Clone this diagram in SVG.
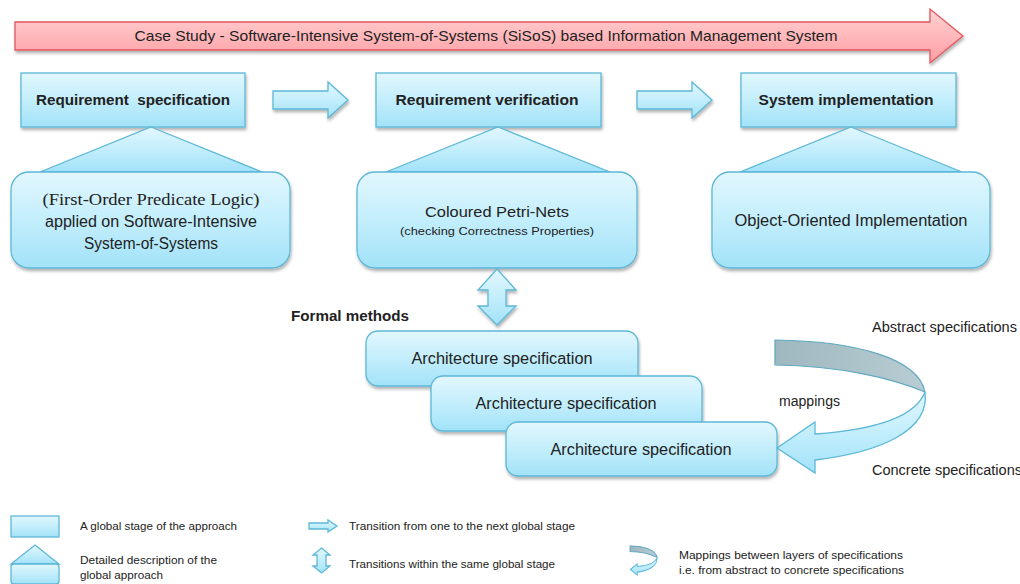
<svg xmlns="http://www.w3.org/2000/svg" width="1020" height="584" viewBox="0 0 1020 584">
  <defs>
    <linearGradient id="gBlue" x1="0" y1="0" x2="0" y2="1">
      <stop offset="0" stop-color="#e2f7fe"/>
      <stop offset="0.5" stop-color="#c3eefc"/>
      <stop offset="1" stop-color="#a2e2f8"/>
    </linearGradient>
    <linearGradient id="gRed" x1="0" y1="0" x2="0" y2="1">
      <stop offset="0" stop-color="#ffd3d4"/>
      <stop offset="1" stop-color="#ff9da2"/>
    </linearGradient>
    <linearGradient id="gGrey" x1="0" y1="0" x2="1" y2="0">
      <stop offset="0" stop-color="#9fb7bf"/>
      <stop offset="1" stop-color="#b8cdd3"/>
    </linearGradient>
    <filter id="shadow" x="-10%" y="-10%" width="120%" height="130%">
      <feDropShadow dx="1" dy="2.5" stdDeviation="1.6" flood-color="#000" flood-opacity="0.3"/>
    </filter>
    <style>
      .stage { fill: url(#gBlue); stroke: #5db7d7; stroke-width: 1.3; }
      .sh { filter: url(#shadow); }
      .txt { font-family: "Liberation Sans", Arial, sans-serif; fill: #222; }
      .serif { font-family: "Liberation Serif", "Times New Roman", serif; }
      .head { font-weight: bold; font-size: 14px; }
      .mid { text-anchor: middle; }
      .leg { font-size: 10.5px; }
    </style>
  </defs>

  <rect width="1020" height="584" fill="#fff"/>

  <!-- Banner arrow across the top -->
  <g id="banner">
    <path d="M15,22 H930 V9 L963,36 L930,63 V50 H15 Z" fill="url(#gRed)" stroke="#e2575f" stroke-width="1.3" class="sh"/>
    <text class="txt mid" x="486" y="41" font-size="15" textLength="703" lengthAdjust="spacingAndGlyphs">Case Study - Software-Intensive System-of-Systems (SiSoS) based Information Management System</text>
  </g>

  <!-- Global stages -->
  <g id="stage-requirement-specification">
    <rect class="stage sh" x="21" y="73" width="224" height="54"/>
    <text class="txt head mid" x="133" y="105" textLength="194" lengthAdjust="spacingAndGlyphs">Requirement&#160; specification</text>
  </g>
  <g id="stage-requirement-verification">
    <rect class="stage sh" x="376" y="73" width="225" height="54"/>
    <text class="txt head mid" x="487" y="105" textLength="183" lengthAdjust="spacingAndGlyphs">Requirement verification</text>
  </g>
  <g id="stage-system-implementation">
    <rect class="stage sh" x="741" y="73" width="215" height="54"/>
    <text class="txt head mid" x="846" y="105" textLength="175" lengthAdjust="spacingAndGlyphs">System implementation</text>
  </g>

  <!-- Detailed descriptions -->
  <g id="detail-fopl">
    <path class="stage" d="M151,127 L262,172 H40 Z"/>
    <rect class="stage sh" x="11" y="172" width="279" height="96" rx="18"/>
    <text class="txt serif mid" x="151" y="205" font-size="16" textLength="217" lengthAdjust="spacingAndGlyphs">(First-Order Predicate Logic)</text>
    <text class="txt mid" x="151" y="227" font-size="16" textLength="212" lengthAdjust="spacingAndGlyphs">applied on Software-Intensive</text>
    <text class="txt mid" x="151" y="249" font-size="16" textLength="134" lengthAdjust="spacingAndGlyphs">System-of-Systems</text>
  </g>
  <g id="detail-cpn">
    <path class="stage" d="M498,127 L610,172 H386 Z"/>
    <rect class="stage sh" x="357" y="172" width="280" height="96" rx="18"/>
    <text class="txt mid" x="497" y="217" font-size="15" textLength="144" lengthAdjust="spacingAndGlyphs">Coloured Petri-Nets</text>
    <text class="txt mid" x="497" y="235" font-size="11" textLength="194" lengthAdjust="spacingAndGlyphs">(checking Correctness Properties)</text>
  </g>
  <g id="detail-oo">
    <path class="stage" d="M851,127 L962,172 H740 Z"/>
    <rect class="stage sh" x="712" y="172" width="278" height="96" rx="18"/>
    <text class="txt mid" x="851" y="226" font-size="16" textLength="233" lengthAdjust="spacingAndGlyphs">Object-Oriented Implementation</text>
  </g>

  <!-- Formal methods layers -->
  <text class="txt" x="291" y="321" font-size="14" font-weight="bold" textLength="118" lengthAdjust="spacingAndGlyphs">Formal methods</text>
  <g id="arch-spec-1">
    <rect class="stage sh" x="366" y="331" width="272" height="55" rx="12"/>
    <text class="txt mid" x="502" y="364" font-size="16" textLength="181" lengthAdjust="spacingAndGlyphs">Architecture specification</text>
  </g>
  <g id="arch-spec-2">
    <rect class="stage sh" x="431" y="376" width="271" height="55" rx="12"/>
    <text class="txt mid" x="566" y="409" font-size="16" textLength="181" lengthAdjust="spacingAndGlyphs">Architecture specification</text>
  </g>
  <g id="arch-spec-3">
    <rect class="stage sh" x="506" y="422" width="271" height="54" rx="12"/>
    <text class="txt mid" x="641" y="455" font-size="16" textLength="181" lengthAdjust="spacingAndGlyphs">Architecture specification</text>
  </g>

  <!-- Connectors -->
  <g id="connectors">
    <path class="stage sh" d="M273,91 H328 V82 L348,100 L328,118 V109 H273 Z"/>
    <path class="stage sh" d="M637,91 H692 V82 L712,100 L692,118 V109 H637 Z"/>
    <path class="stage sh" d="M497,269 L516,290 H506 V306 H516 L497,325 L478,306 H488 V290 H478 Z"/>
    <g id="mapping-arrow">
      <path d="M775,340 C855,341 918,358 925,392 C892,378 840,366 775,365 Z" fill="url(#gGrey)" stroke="#5fa9c0" stroke-width="1.2"/>
      <path class="stage" d="M925,392 C930,430 882,452 815,460 V473 L777,448 L815,422 V434 C872,430 915,418 925,392 Z"/>
    </g>
  </g>
  <text class="txt" x="872" y="332" font-size="14" textLength="145" lengthAdjust="spacingAndGlyphs">Abstract specifications</text>
  <text class="txt" x="779" y="406" font-size="14" textLength="61" lengthAdjust="spacingAndGlyphs">mappings</text>
  <text class="txt" x="872" y="475" font-size="14" textLength="150" lengthAdjust="spacingAndGlyphs">Concrete specifications</text>

  <!-- Legend -->
  <g id="legend">
    <rect class="stage" x="11" y="516" width="48" height="21"/>
    <text class="txt leg" x="80" y="530" textLength="157" lengthAdjust="spacingAndGlyphs">A global stage of the approach</text>

    <path class="stage" d="M35,545 L59,564 H11 Z"/>
    <rect class="stage" x="11" y="564" width="48" height="20" rx="3"/>
    <text class="txt leg" x="80" y="564" textLength="137" lengthAdjust="spacingAndGlyphs">Detailed description of the</text>
    <text class="txt leg" x="80" y="579" textLength="83" lengthAdjust="spacingAndGlyphs">global approach</text>

    <path class="stage" d="M309,523 H328 V520 L337,526 L328,532 V529 H309 Z"/>
    <text class="txt leg" x="349" y="530" textLength="226" lengthAdjust="spacingAndGlyphs">Transition from one to the next global stage</text>

    <path class="stage" d="M321.5,548 L330,555 H326 V566 H330 L321.5,573 L313,566 H317 V555 H313 Z"/>
    <text class="txt leg" x="349" y="568" textLength="206" lengthAdjust="spacingAndGlyphs">Transitions within the same global stage</text>

    <g transform="translate(630,546) scale(0.18,0.218) translate(-775,-340)">
      <path d="M775,340 C855,341 918,358 925,392 C892,378 840,366 775,365 Z" fill="url(#gGrey)" stroke="#5fa9c0" stroke-width="5"/>
      <path d="M925,392 C930,430 882,452 815,460 V473 L777,448 L815,422 V434 C872,430 915,418 925,392 Z" fill="url(#gBlue)" stroke="#5db7d7" stroke-width="5"/>
    </g>
    <text class="txt leg" x="679" y="559" textLength="224" lengthAdjust="spacingAndGlyphs">Mappings between layers of specifications</text>
    <text class="txt leg" x="679" y="574" textLength="225" lengthAdjust="spacingAndGlyphs">i.e. from abstract to concrete specifications</text>
  </g>
</svg>
